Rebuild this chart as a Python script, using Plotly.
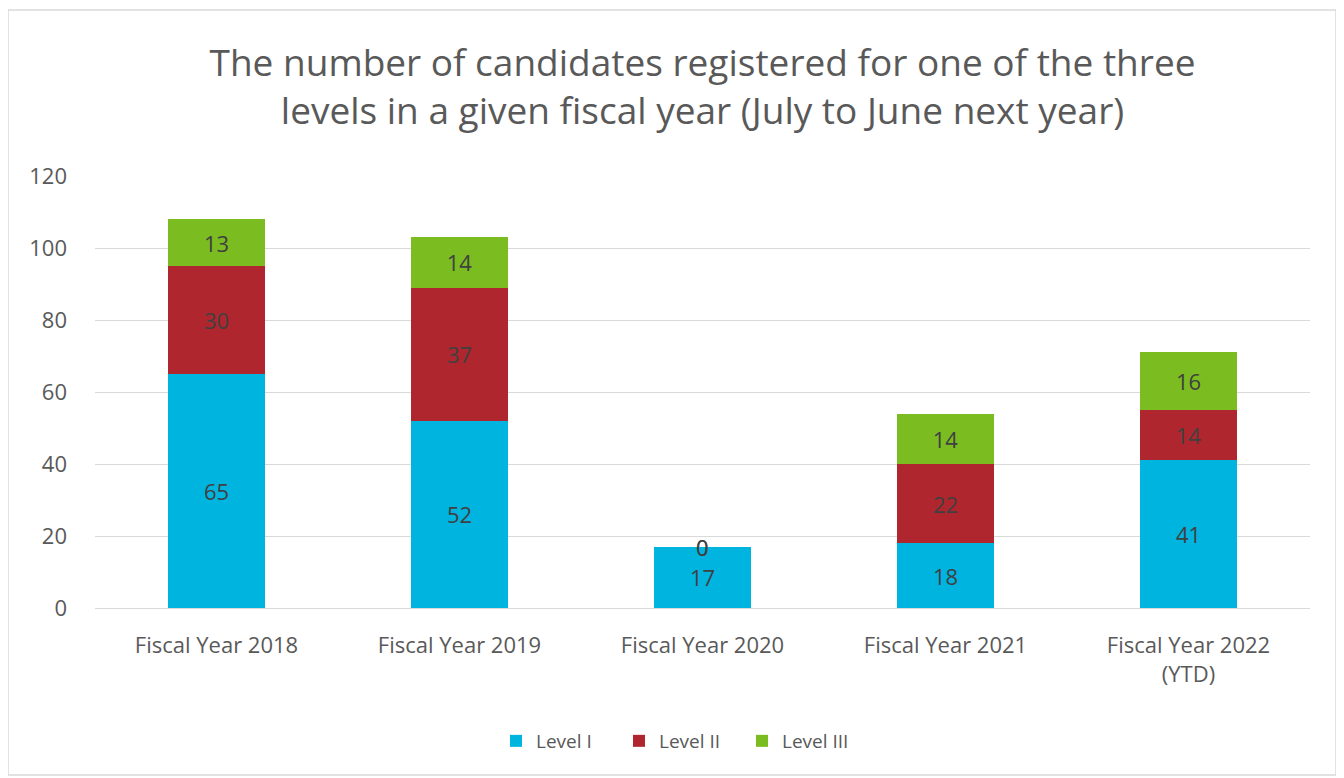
import plotly.graph_objects as go

categories = ["Fiscal Year 2018", "Fiscal Year 2019", "Fiscal Year 2020", "Fiscal Year 2021", "Fiscal Year 2022<br>(YTD)"]
level1 = [65, 52, 17, 18, 41]
level2 = [30, 37, 0, 22, 14]
level3 = [13, 14, 0, 14, 16]
series_names = ["Level I", "Level II", "Level III"]
colors = ["#00B4E0", "#B0262E", "#7BBD20"]
y_ticks = [0, 20, 40, 60, 80, 100, 120]

FONT = "Open Sans, sans-serif"

fig = go.Figure()
series = [level1, level2, level3]
for name, vals, col in zip(series_names, series, colors):
    fig.add_trace(go.Bar(
        x=categories, y=vals, name=name, marker=dict(color=col, line=dict(width=0)),
        text=[str(v) if v != 0 else "" for v in vals],
        textposition="inside", insidetextanchor="middle",
        textfont=dict(color="#404040", size=22, family=FONT),
    ))

# labels for zero-valued segments drawn at their stack position
cum = [0] * len(categories)
for vals in series:
    for i, v in enumerate(vals):
        cum[i] += v
        if v == 0:
            fig.add_annotation(x=categories[i], y=cum[i], text="0", showarrow=False,
                               font=dict(color="#404040", size=22, family=FONT),
                               yanchor="middle")

PL, PT, PW, PH = 87, 168, 1215, 432

fig.update_layout(
    barmode="stack",
    bargap=0.6,
    width=1344, height=778,
    paper_bgcolor="white", plot_bgcolor="white",
    margin=dict(l=PL, r=1344 - PL - PW, t=PT, b=778 - PT - PH),
    title=dict(text="The number of candidates registered for one of the three<br>levels in a given fiscal year (July to June next year)",
               x=0.5, xanchor="center", xref="paper", yref="container", y=1 - 68 / 778, yanchor="top",
               font=dict(size=37, color="#595959", family=FONT)),
    font=dict(family=FONT, color="#595959"),
    legend=dict(orientation="h", x=0.5 - 22 / PW, xanchor="center", y=(PT + PH - 733) / PH, yanchor="middle",
                font=dict(size=19, color="#595959", family=FONT), traceorder="normal",
                itemwidth=30, entrywidth=78, entrywidthmode="pixels"),
    showlegend=True,
)
fig.update_yaxes(range=[0, 120], tickvals=y_ticks, showgrid=True, gridcolor="#D9D9D9", gridwidth=1,
                 zeroline=True, zerolinecolor="#D9D9D9", zerolinewidth=1,
                 tickfont=dict(size=22, color="#595959", family=FONT), ticks="", ticklen=0,
                 showline=False, ticklabelstandoff=27)
fig.update_xaxes(tickfont=dict(size=22, color="#595959", family=FONT), showline=False, ticks="",
                 ticklabelstandoff=22)

fig.add_shape(type="rect", xref="paper", yref="paper",
              x0=(0 - PL) / PW, x1=(1328 - PL) / PW,
              y0=(PT + PH - 767) / PH, y1=(PT + PH - 2) / PH,
              line=dict(color="#D9D9D9", width=1.5), fillcolor="rgba(0,0,0,0)", layer="below")

fig.write_html("out.html")
